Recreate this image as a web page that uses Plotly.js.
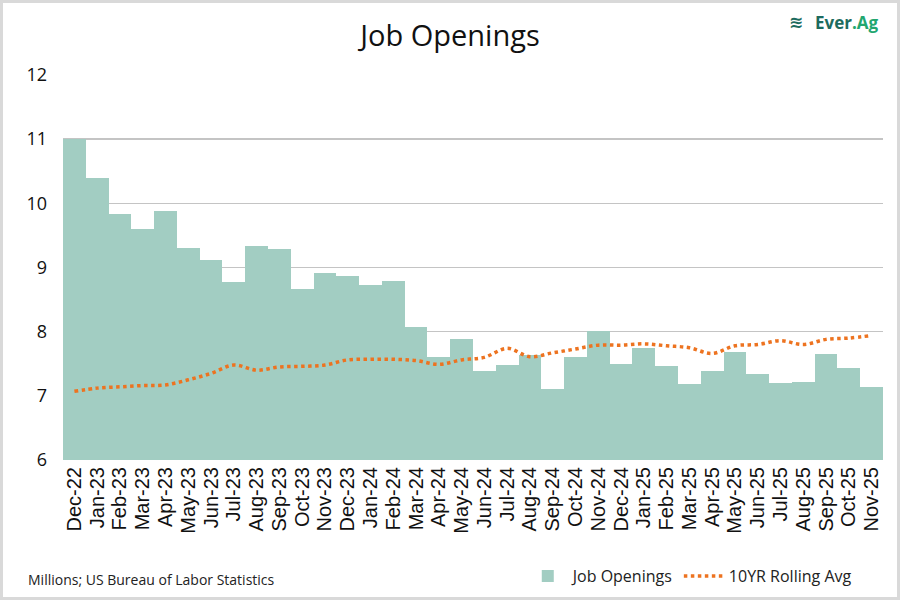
<!DOCTYPE html>
<html>
<head>
<meta charset="utf-8">
<script src="https://cdn.plot.ly/plotly-3.0.1.min.js"></script>
<style>
  html, body { margin: 0; padding: 0; background: #fff; }
  #wrap { width: 894px; height: 594px; border: 3px solid #d9d9d9; }
  #chart { width: 894px; height: 594px; }
</style>
</head>
<body>
<div id="wrap"><div id="chart"></div></div>
<script>
const months = ["Dec-22","Jan-23","Feb-23","Mar-23","Apr-23","May-23","Jun-23","Jul-23","Aug-23","Sep-23","Oct-23","Nov-23",
  "Dec-23","Jan-24","Feb-24","Mar-24","Apr-24","May-24","Jun-24","Jul-24","Aug-24","Sep-24","Oct-24","Nov-24",
  "Dec-24","Jan-25","Feb-25","Mar-25","Apr-25","May-25","Jun-25","Jul-25","Aug-25","Sep-25","Oct-25","Nov-25"];
const jobOpenings = [11.00,10.40,9.83,9.60,9.88,9.30,9.11,8.78,9.34,9.29,8.67,8.92,
  8.87,8.73,8.79,8.08,7.60,7.88,7.39,7.48,7.63,7.10,7.60,8.01,
  7.50,7.74,7.46,7.19,7.39,7.69,7.34,7.20,7.21,7.65,7.43,7.13];
const rollingAvg = [7.07,7.12,7.14,7.16,7.17,7.25,7.35,7.48,7.40,7.45,7.46,7.48,
  7.56,7.57,7.57,7.55,7.49,7.56,7.60,7.74,7.61,7.67,7.73,7.79,
  7.79,7.81,7.78,7.75,7.66,7.78,7.80,7.86,7.80,7.88,7.90,7.94];
const yTicks = [6,7,8,9,10,11,12];

const traces = [
  {
    type: 'bar', name: 'Job Openings', x: months, y: jobOpenings,
    marker: { color: '#a2cdc2', line: { width: 0 } }
  },
  {
    type: 'scatter', mode: 'lines', name: '10YR Rolling Avg', x: months, y: rollingAvg,
    line: { color: '#ed7320', width: 3.5, dash: 'dot', shape: 'spline' }
  }
];

const layout = {
  width: 894, height: 594,
  margin: { l: 60, r: 14, t: 72, b: 137 },
  paper_bgcolor: '#fff', plot_bgcolor: '#fff',
  font: { family: 'Lato, "Open Sans", sans-serif', color: '#000' },
  title: { text: 'Job Openings', x: 0.5, xanchor: 'center', y: 0.945, yanchor: 'middle',
    font: { size: 29, family: '"Open Sans", Lato, sans-serif', color: '#111' } },
  bargap: 0,
  xaxis: {
    type: 'category', tickangle: -90, showgrid: false, showline: false, ticks: '',
    tickmode: 'array', tickvals: months, ticktext: months,
    tickfont: { size: 20, family: '"Liberation Sans", Arial, sans-serif', color: '#111' },
    ticklabelstandoff: 2, automargin: false,
    fixedrange: true
  },
  yaxis: {
    range: [6, 12], tickvals: yTicks, ticktext: yTicks.map(String),
    showgrid: true, gridcolor: '#c4c4c4', gridwidth: 1.5, zeroline: false, showline: false,
    tickfont: { size: 18, family: '"Open Sans", Lato, sans-serif', color: '#111' },
    ticklabelstandoff: 15, automargin: false
  },
  legend: {
    orientation: 'h', xref: 'container', yref: 'container',
    x: 0.955, xanchor: 'right', y: 0.035, yanchor: 'middle',
    font: { size: 16, family: '"Open Sans", Lato, sans-serif', color: '#222' },
    traceorder: 'normal', itemwidth: 40
  },
  annotations: [
    { text: 'Millions; US Bureau of Labor Statistics', xref: 'paper', yref: 'paper',
      x: -0.045, xanchor: 'left', y: -0.31, yanchor: 'middle', showarrow: false,
      font: { size: 14, family: '"Open Sans", Lato, sans-serif', color: '#222' } },
    { text: '<b><span style="color:#1d6b5e">Ever</span>.Ag</b>', xref: 'paper', yref: 'paper', x: 0.998, xanchor: 'right',
      y: 1.137, yanchor: 'middle', showarrow: false,
      font: { size: 17, family: '"Open Sans", Lato, sans-serif', color: '#22a66f' } },
    { text: '<b>≋</b>', xref: 'paper', yref: 'paper', x: 0.905, xanchor: 'right',
      y: 1.137, yanchor: 'middle', showarrow: false,
      font: { size: 17, family: '"DejaVu Sans", sans-serif', color: '#1d6b5e' } }
  ],
  showlegend: true
};

Plotly.newPlot('chart', traces, layout, { displayModeBar: false, staticPlot: true });
</script>
</body>
</html>
